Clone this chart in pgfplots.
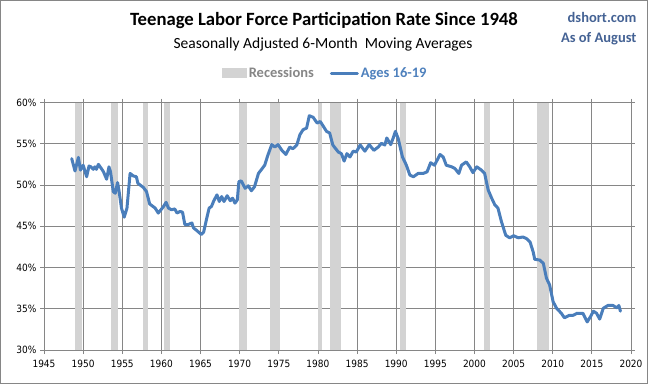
\documentclass[border=0pt]{standalone}
\usepackage{pgfplots}
\pgfplotsset{compat=1.18}
\usepackage{fontspec}
\setmainfont{Carlito}
\newfontfamily\tickfont{DejaVu Sans Condensed}
\definecolor{lineblue}{RGB}{74,126,187}
\definecolor{recgray}{RGB}{211,211,211}
\definecolor{gridgray}{RGB}{134,134,134}
\definecolor{txtblue}{RGB}{68,98,148}
\definecolor{legblue}{RGB}{79,129,189}
\begin{document}
\begin{tikzpicture}
\useasboundingbox (0pt,0pt) rectangle (648pt,384pt);
\draw[gridgray, line width=0.8pt] (0.5pt,0.5pt) rectangle (647.5pt,383.5pt);
\node[font=\bfseries\fontsize{18.7}{22}\selectfont, anchor=center] at (324pt,363pt) {Teenage Labor Force Participation Rate Since 1948};
\node[font=\fontsize{15.5}{18}\selectfont, anchor=center] at (323pt,340pt) {Seasonally Adjusted 6-Month\ \ Moving Averages};
\node[font=\bfseries\fontsize{14.5}{17}\selectfont, text=txtblue, anchor=east] at (640pt,367pt) {dshort.com};
\node[font=\bfseries\fontsize{14.5}{17}\selectfont, text=txtblue, anchor=east] at (640pt,345pt) {As of August};
\begin{axis}[
  at={(44pt,34pt)}, anchor=south west,
  width=587pt, height=247.5pt, scale only axis,
  xmin=1945, xmax=2020, ymin=30, ymax=60,
  xtick={1945,1950,...,2020},
  xticklabels={1945,1950,1955,1960,1965,1970,1975,1980,1985,1990,1995,2000,2005,2010,2015,2020},
  ytick={30,35,...,60},
  yticklabels={30\%,35\%,40\%,45\%,50\%,55\%,60\%},
  ticklabel style={font=\tickfont\fontsize{10}{12}\selectfont},
  xticklabel style={yshift=-3pt},
  grid=major,
  grid style={gridgray, line width=0.8pt},
  axis line style={gridgray, line width=0.8pt},
  tick style={gridgray, line width=0.8pt},
  tick align=outside,
  major tick length=4pt,
  legend columns=2,
  legend style={at={(0.479,1.119)}, anchor=center, draw=none, fill=none,
    font=\bfseries\fontsize{14.5}{17}\selectfont,
    /tikz/every even column/.append style={column sep=14pt}},
  legend cell align=left,
]
\addplot[fill=recgray, draw=none, area legend, legend image code/.code={\fill[recgray] (0pt,-5pt) rectangle (25pt,5pt);}] coordinates {(1948.9,30) (1948.9,60) (1949.8,60) (1949.8,30)} -- cycle;
\addlegendentry{\textcolor{gridgray}{Recessions}}
\addplot[fill=recgray, draw=none, forget plot] coordinates {(1953.5,30) (1953.5,60) (1954.4,60) (1954.4,30)} -- cycle;
\addplot[fill=recgray, draw=none, forget plot] coordinates {(1957.6,30) (1957.6,60) (1958.3,60) (1958.3,30)} -- cycle;
\addplot[fill=recgray, draw=none, forget plot] coordinates {(1960.3,30) (1960.3,60) (1961.1,60) (1961.1,30)} -- cycle;
\addplot[fill=recgray, draw=none, forget plot] coordinates {(1969.95,30) (1969.95,60) (1970.9,60) (1970.9,30)} -- cycle;
\addplot[fill=recgray, draw=none, forget plot] coordinates {(1973.9,30) (1973.9,60) (1975.2,60) (1975.2,30)} -- cycle;
\addplot[fill=recgray, draw=none, forget plot] coordinates {(1980.0,30) (1980.0,60) (1980.55,60) (1980.55,30)} -- cycle;
\addplot[fill=recgray, draw=none, forget plot] coordinates {(1981.5,30) (1981.5,60) (1982.9,60) (1982.9,30)} -- cycle;
\addplot[fill=recgray, draw=none, forget plot] coordinates {(1990.5,30) (1990.5,60) (1991.2,60) (1991.2,30)} -- cycle;
\addplot[fill=recgray, draw=none, forget plot] coordinates {(2001.2,30) (2001.2,60) (2001.95,60) (2001.95,30)} -- cycle;
\addplot[fill=recgray, draw=none, forget plot] coordinates {(2007.95,30) (2007.95,60) (2009.5,60) (2009.5,30)} -- cycle;
\addplot[lineblue, line width=3pt, line join=round, line cap=round, legend image code/.code={\draw[lineblue, line width=3pt] (0pt,0pt) -- (26pt,0pt);}] coordinates {
(1948.54,53.2) (1948.96,51.7) (1949.4,53.35) (1949.65,51.8) (1950.0,52.4) (1950.2,51.8)
(1950.45,51.0) (1950.75,52.3) (1951.0,52.2) (1951.3,51.9) (1951.5,52.2) (1951.7,51.9)
(1951.95,52.5) (1952.4,51.9) (1952.6,51.6) (1953.0,50.7) (1953.3,52.2) (1953.5,51.6)
(1953.85,49.2) (1954.1,49.0) (1954.4,50.3) (1954.6,49.2) (1954.9,47.2) (1955.25,46.1)
(1955.6,47.2) (1956.0,51.4) (1956.4,51.1) (1956.8,51.0) (1957.0,50.2) (1957.7,49.7)
(1958.1,49.2) (1958.5,47.7) (1959.2,47.2) (1959.6,46.6) (1960.2,47.3) (1960.6,47.9)
(1960.9,47.2) (1961.3,47.0) (1961.7,47.1) (1962.0,46.6) (1962.4,46.8) (1962.7,46.7)
(1963.0,45.2) (1963.4,45.2) (1963.9,45.4) (1964.1,44.8) (1964.5,44.5) (1965.1,44.0)
(1965.4,44.3) (1965.8,46.0) (1966.1,47.2) (1966.4,47.4) (1966.7,48.1) (1967.1,48.8)
(1967.4,48.0) (1967.7,48.6) (1968.0,48.0) (1968.4,48.7) (1968.8,48.1) (1969.1,48.4)
(1969.4,47.8) (1969.7,48.2) (1969.9,50.4) (1970.2,50.5) (1970.7,49.6) (1971.1,49.9)
(1971.5,49.3) (1971.9,49.8) (1972.4,51.4) (1972.8,51.9) (1973.2,52.4) (1973.6,53.6)
(1974.1,54.9) (1974.5,54.6) (1974.9,54.9) (1975.4,54.2) (1975.9,53.7) (1976.4,54.6)
(1976.8,54.4) (1977.3,54.85) (1977.7,56.1) (1978.1,56.7) (1978.55,56.9) (1978.9,58.4)
(1979.4,58.2) (1979.9,57.5) (1980.3,57.7) (1980.7,57.1) (1981.1,56.5) (1981.5,56.3)
(1981.9,54.85) (1982.6,54.0) (1983.0,53.8) (1983.35,52.9) (1983.7,53.8) (1984.1,53.4)
(1984.5,54.1) (1984.9,54.0) (1985.4,54.85) (1986.0,54.1) (1986.55,54.9) (1987.15,54.2)
(1987.7,54.6) (1988.1,55.05) (1988.55,54.85) (1988.8,55.7) (1989.3,54.9) (1989.6,55.65)
(1989.9,56.5) (1990.25,55.65) (1990.8,53.4) (1991.3,52.4) (1991.75,51.2) (1992.2,51.0)
(1992.8,51.4) (1993.45,51.4) (1993.95,51.6) (1994.4,52.7) (1994.9,52.4) (1995.6,53.7)
(1996.0,53.4) (1996.4,52.4) (1997.1,52.2) (1997.5,52.0) (1998.0,51.4) (1998.35,52.4)
(1998.95,52.8) (1999.4,52.2) (1999.8,51.5) (2000.3,52.2) (2000.9,51.8) (2001.3,51.4)
(2001.75,49.4) (2002.2,48.4) (2002.6,47.6) (2003.0,47.2) (2003.45,45.55) (2004.0,43.9)
(2004.5,43.6) (2005.0,43.85) (2005.6,43.6) (2006.2,43.7) (2006.65,43.5) (2007.1,43.1)
(2007.5,41.9) (2007.7,41.0) (2008.35,40.9) (2008.8,40.5) (2009.2,38.7) (2009.6,37.9)
(2010.05,35.85) (2010.5,35.05) (2011.1,34.45) (2011.5,33.9) (2012.1,34.2) (2012.6,34.2)
(2013.1,34.45) (2013.85,34.45) (2014.4,33.4) (2014.8,34.0) (2015.2,34.7) (2015.6,34.45)
(2016.0,33.75) (2016.45,35.05) (2017.05,35.4) (2017.7,35.4) (2018.2,35.1) (2018.45,35.4)
(2018.65,34.7)
};
\addlegendentry{\textcolor{legblue}{Ages 16-19}}
\end{axis}
\end{tikzpicture}
\end{document}
